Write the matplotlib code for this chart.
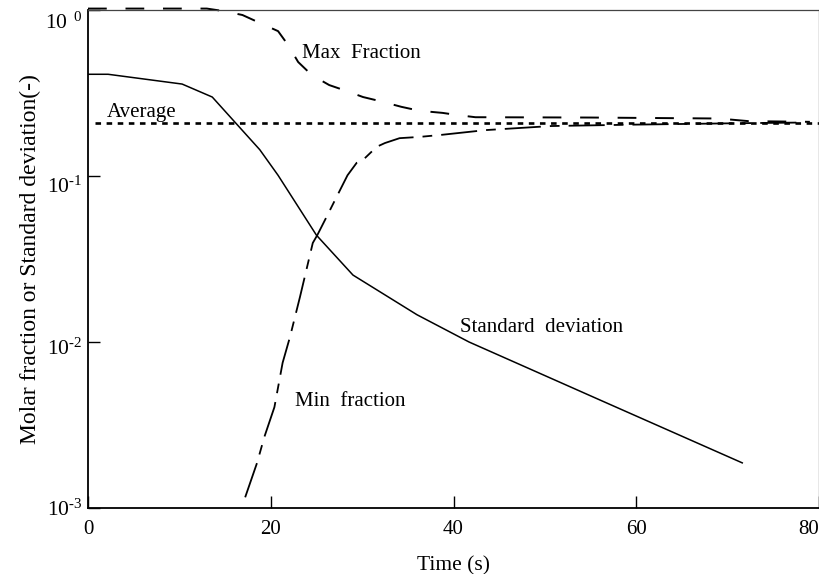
"""
Molar fraction / standard deviation over time, log scale
"""

import matplotlib
matplotlib.use("Agg")
import matplotlib.pyplot as plt
from matplotlib.transforms import ScaledTranslation

plt.rcParams["font.family"] = ["Liberation Serif", "DejaVu Serif"]
plt.rcParams["mathtext.fontset"] = "custom"
plt.rcParams["mathtext.rm"] = "Liberation Serif"
plt.rcParams["lines.scale_dashes"] = False

# standard deviation (solid)
std_time = [0, 2.2, 10.3, 13.6, 18.8, 20.8, 25.0, 29.0, 36.0, 41.7, 56.0, 71.6]
std_value = [0.41, 0.41, 0.358, 0.299, 0.144, 0.101, 0.044, 0.0253, 0.0146, 0.0100, 0.00448, 0.00187]

# max fraction (dashed)
max_time = [0, 13.0, 14.8, 16.9, 18.8, 20.8, 21.9, 23.0, 24.5, 26.4, 28.3, 30.1,
            31.9, 34.3, 36.3, 38.8, 40.4, 42.4, 55.0, 69.0, 72.3, 79.0]
max_value = [1.02, 1.02, 0.986, 0.933, 0.836, 0.746, 0.615, 0.486, 0.405, 0.353, 0.325, 0.299,
             0.283, 0.261, 0.247, 0.240, 0.233, 0.226, 0.225, 0.222, 0.214, 0.212]

# min fraction (long-short dash)
min_time = [17.2, 18.5, 19.3, 20.4, 21.3, 22.1, 23.2, 24.6, 25.1, 26.1, 27.2, 28.4,
            29.4, 30.1, 31.6, 32.5, 34.1, 36.3, 38.7, 43.5, 50.7, 60.0, 71.3, 78.5]
min_value = [0.00116, 0.00187, 0.00268, 0.00405, 0.0075, 0.0107, 0.0187, 0.0395, 0.0441,
             0.0566, 0.0747, 0.101, 0.120, 0.125, 0.150, 0.158, 0.169, 0.172, 0.177,
             0.189, 0.200, 0.204, 0.208, 0.210]

# average (dotted)
avg_time = [0.8, 80]
avg_value = [0.208, 0.208]

x_ticks = [0, 20, 40, 60, 80]
y_ticks = [1e-3, 1e-2, 1e-1, 1e0]
y_tick_labels = ["$\\mathregular{10^{\u20103}}$", "$\\mathregular{10^{\u20102}}$",
                 "$\\mathregular{10^{\u20101}}$", "$\\mathregular{10\\ ^{0}}$"]

fig = plt.figure(figsize=(8.2, 5.74), dpi=100)
ax = fig.add_axes([88 / 820, 1 - 508 / 574, 731 / 820, 498 / 574])

ax.plot(std_time, std_value, color="black", lw=1.1)
ax.plot(max_time, max_value, color="black", lw=1.4, linestyle=(0, (13.5, 13.5)), clip_on=False)
ax.plot(min_time, min_value, color="black", lw=1.3, linestyle=(0, (26, 6.5, 7, 6.5)))
ax.plot(avg_time, avg_value, color="black", lw=1.9, linestyle=(0, (4, 4)))

ax.set_yscale("log")
ax.set_xlim(0, 80)
ax.set_ylim(1e-3, 1e0)
ax.set_xticks(x_ticks)
ax.set_yticks(y_ticks)
ax.set_yticklabels(y_tick_labels)
ax.minorticks_off()
ax.tick_params(direction="in", length=8.5, width=1.0, labelsize=15, colors="black")
ax.tick_params(axis="x", pad=9)
ax.tick_params(axis="y", labelsize=15.5, pad=4)
# last x label sits inside the figure edge
ax.get_xticklabels()[-1].set_horizontalalignment("right")
# y labels sit a little below their ticks, as in the original
for lab, dy in zip(ax.get_yticklabels(), [0, 5, 9, 11]):
    lab.set_transform(lab.get_transform() + ScaledTranslation(0, -dy / 100, fig.dpi_scale_trans))

for side in ["left", "bottom"]:
    ax.spines[side].set_linewidth(1.3)
for side in ["top", "right"]:
    ax.spines[side].set_linewidth(0.9)
    ax.spines[side].set_color("#444444")

ax.text(23.4, 0.55, "Max  Fraction", fontsize=15, va="center")
ax.text(2.1, 0.24, "Average", fontsize=15, va="center")
ax.text(40.7, 0.0123, "Standard  deviation", fontsize=15, va="center")
ax.text(22.6, 0.00436, "Min  fraction", fontsize=15, va="center")

ax.set_xlabel("Time (s)", fontsize=15.5, labelpad=12)
ax.set_ylabel("Molar fraction or Standard deviation(-)", fontsize=17, labelpad=3)

fig.savefig("out.png", dpi=100)
